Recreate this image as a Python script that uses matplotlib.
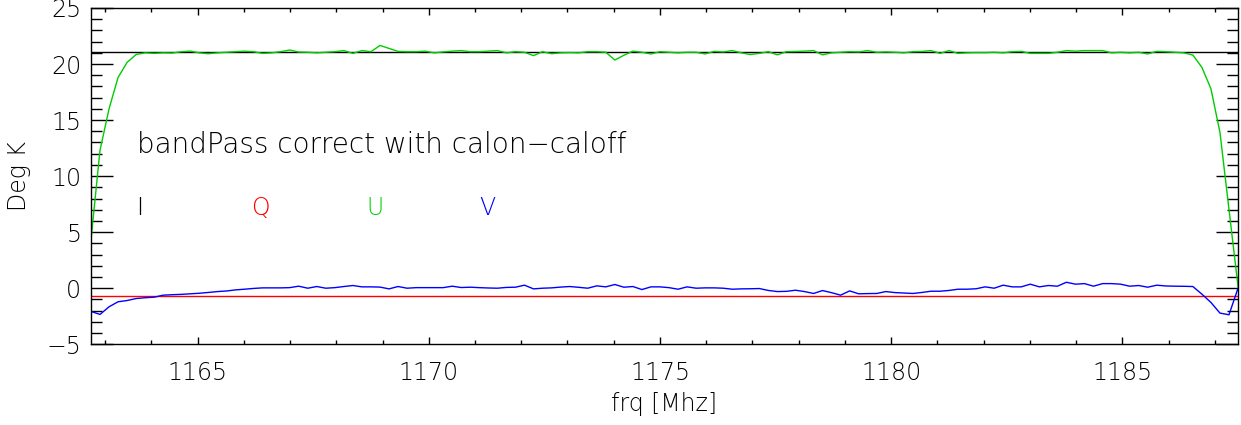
import numpy as np
import matplotlib
matplotlib.use('Agg')
from matplotlib import pyplot as plt
from matplotlib.ticker import MultipleLocator

# channel frequencies: 128 channels, last one at 1187.5 MHz
n_chan = 128
f_first = 1162.6953125
f_last = 1187.5
freq = np.linspace(f_first, f_last, n_chan)

# Stokes levels after bandpass correction (Deg K)
I_level = 21.1
Q_level = -0.71

U_vals = [4.3, 12.3, 16.0, 18.8, 20.15, 20.85, 21.0, 20.95, 21.0, 20.98,
          21.1, 21.15, 21.0, 20.92, 21.0, 21.05, 21.1, 21.15, 21.1, 20.95,
          21.0, 21.1, 21.25, 21.07, 21.05, 21.0, 21.05, 21.1, 21.2, 20.95,
          21.2, 21.1, 21.66, 21.4, 21.13, 21.1, 21.1, 21.15, 21.0, 21.08,
          21.15, 21.2, 21.1, 21.1, 21.15, 21.2, 21.0, 21.1, 21.05, 20.75,
          21.1, 20.92, 21.0, 21.02, 21.0, 21.1, 21.1, 21.05, 20.36, 20.78,
          21.15, 21.05, 20.9, 21.1, 21.05, 21.0, 21.05, 21.05, 20.9, 21.13,
          21.08, 21.2, 21.0, 20.85, 20.95, 21.1, 20.82, 21.1, 21.12, 21.15,
          21.2, 20.82, 21.0, 21.05, 21.1, 21.08, 21.2, 21.05, 21.08, 21.05,
          21.0, 21.1, 21.12, 21.2, 20.95, 21.2, 20.95, 21.0, 21.02, 21.02,
          21.05, 21.0, 21.1, 21.13, 20.95, 20.95, 20.95, 21.05, 21.2, 21.15,
          21.2, 21.2, 21.2, 21.0, 21.05, 21.0, 21.05, 20.9, 21.13, 21.1,
          21.05, 21.0, 20.8, 19.7, 17.8, 13.9, 7.0, 0.15]

V_vals = [-2.07, -2.34, -1.66, -1.21, -1.10, -0.92, -0.85, -0.80, -0.62, -0.58,
          -0.55, -0.50, -0.45, -0.38, -0.30, -0.25, -0.15, -0.09, -0.02, 0.03,
          0.03, 0.03, 0.05, 0.18, 0.0, 0.15, 0.0, 0.05, 0.15, 0.24,
          0.12, 0.12, 0.10, -0.06, 0.15, 0.0, 0.05, 0.05, 0.05, 0.05,
          0.18, 0.06, 0.09, 0.05, 0.02, 0.0, 0.07, 0.09, 0.27, -0.06,
          0.0, 0.03, 0.10, 0.15, 0.08, 0.0, 0.21, 0.12, 0.33, 0.09,
          0.15, -0.12, 0.12, 0.12, 0.05, -0.09, 0.12, 0.0, 0.03, 0.03,
          0.0, -0.09, -0.06, -0.05, -0.03, -0.20, -0.30, -0.28, -0.18, -0.30,
          -0.47, -0.21, -0.40, -0.62, -0.24, -0.50, -0.48, -0.47, -0.30, -0.39,
          -0.43, -0.47, -0.38, -0.27, -0.27, -0.20, -0.09, -0.09, -0.05, 0.12,
          0.0, 0.27, 0.12, 0.12, 0.36, 0.12, 0.24, 0.18, 0.53, 0.36,
          0.41, 0.18, 0.41, 0.41, 0.36, 0.18, 0.24, 0.09, 0.27, 0.20,
          0.18, 0.17, 0.15, -0.53, -1.27, -2.22, -2.37, 0.0]

stokes_names = ['I', 'Q', 'U', 'V']
stokes_cols = ['black', '#ff0000', '#00cc00', '#0000ff']
note = 'bandPass correct with calon\u2212caloff'

plt.rcParams['font.family'] = ['DejaVu Sans']
plt.rcParams['font.weight'] = 'light'
plt.rcParams['axes.labelweight'] = 'light'
plt.rcParams['font.size'] = 17

fig = plt.figure(figsize=(12.41, 4.25), dpi=100)
ax = fig.add_axes([0.0733, 0.19, 0.9243, 0.7912])

ax.axhline(I_level, color=stokes_cols[0], lw=1)
ax.axhline(Q_level, color=stokes_cols[1], lw=1)
ax.plot(freq, U_vals, color=stokes_cols[2], lw=1)
ax.plot(freq, V_vals, color=stokes_cols[3], lw=1)

ax.set_xlim(f_first, f_last)
ax.set_ylim(-5, 25)

ax.xaxis.set_major_locator(MultipleLocator(5))
ax.xaxis.set_minor_locator(MultipleLocator(1))
ax.yaxis.set_major_locator(MultipleLocator(5))
ax.yaxis.set_minor_locator(MultipleLocator(1))

ax.tick_params(axis='both', which='both', direction='in', top=True, right=True, width=1)
ax.tick_params(axis='x', which='major', length=5, pad=12)
ax.tick_params(axis='x', which='minor', length=2.8)
ax.tick_params(axis='y', which='major', length=16, pad=7)
ax.tick_params(axis='y', which='minor', length=8)
for sp in ax.spines.values():
    sp.set_linewidth(1)

ax.set_xlabel('frq [Mhz]', labelpad=5)
ax.set_ylabel('Deg K', labelpad=11)

ax.text(1163.7, 12.8, note, va='center', ha='left', fontsize=20)
label_x = [1163.68, 1166.15, 1168.65, 1171.1]
for name, col, lx in zip(stokes_names, stokes_cols, label_x):
    ax.text(lx, 7.2, name, color=col, va='center', ha='left')

fig.savefig('out.png', dpi=100)
